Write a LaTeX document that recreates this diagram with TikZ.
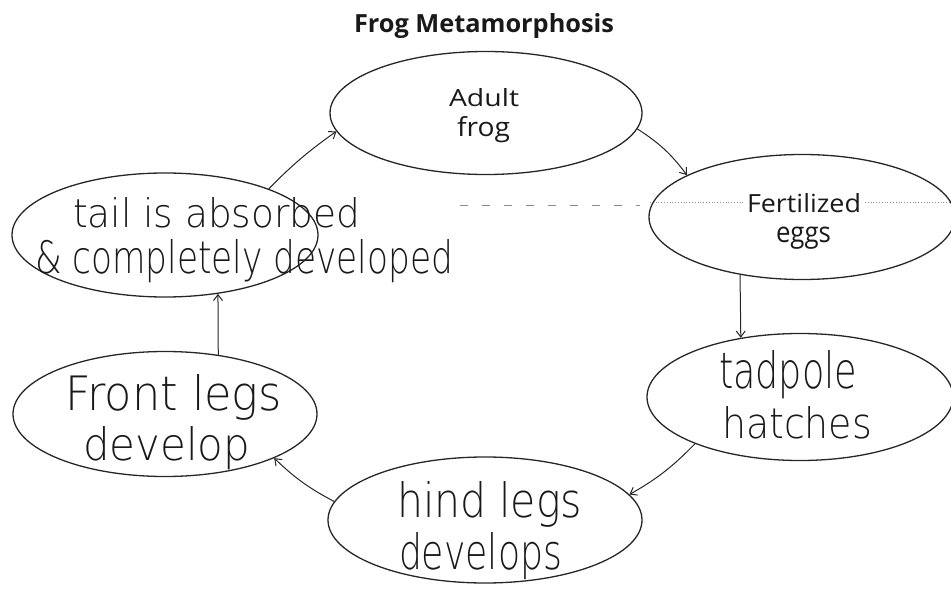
\documentclass[tikz,border=0pt]{standalone}
\usepackage{fontspec}
\setmainfont{Open Sans}
\newfontfamily\hwfont{DejaVu Sans ExtraLight}
\usetikzlibrary{shapes.geometric,arrows.meta}
\newcommand{\fitbox}[3]{\resizebox{#1pt}{#2pt}{#3}}
\tikzset{
  stage/.style={ellipse, draw=black!85, line width=1.3pt, inner sep=0pt},
  txt/.style={anchor=base west, inner sep=0pt, outer sep=0pt, text=black!90},
  hand/.style={txt, font=\hwfont},
  arr/.style={draw=black!85, line width=1pt, -{Straight Barb[length=6pt,width=9pt]}},
  scan/.style={draw=black!45, line width=0.8pt}
}
\begin{document}
\begin{tikzpicture}[x=1pt,y=-1pt]
\useasboundingbox (0,0) rectangle (951,599);
% scan artefact
\draw[scan, dash pattern=on 8pt off 14pt] (460,205) -- (640,205);
\draw[scan, dotted] (650,202) -- (745,202);
\draw[scan, dotted] (865,202) -- (951,202);
% title
\node[txt] (title) at (354,33) {\fitbox{260}{19}{\bfseries Frog Metamorphosis}};
% ellipses
\node[stage, minimum width=312pt, minimum height=123pt] (adult) at (486,113) {};
\node[stage, minimum width=306pt, minimum height=125pt] (fert)  at (802,217) {};
\node[stage, minimum width=306pt, minimum height=127pt] (tad)   at (800,397) {};
\node[stage, minimum width=314pt, minimum height=126pt] (hind)  at (485,520) {};
\node[stage, minimum width=304pt, minimum height=125pt] (front) at (165,414) {};
\node[stage, minimum width=306pt, minimum height=124pt] (tail)  at (165,235) {};
% printed labels
\node[txt] (adultA) at (449,107) {\fitbox{70}{18}{Adult}};
\node[txt] (adultB) at (457,137) {\fitbox{53}{20}{frog}};
\node[txt] (fertA)  at (747,212) {\fitbox{114}{19}{Fertilized}};
\node[txt] (fertB)  at (776,242) {\fitbox{55}{15.5}{eggs}};
% handwritten labels
\node[hand] (tailA)  at (73,227)  {\fitbox{287}{30}{tail is absorbed}};
\node[hand] (tailB)  at (35,273)  {\fitbox{418}{34}{\& completely developed}};
\node[hand] (frontA) at (65,410)  {\fitbox{217}{36}{Front legs}};
\node[hand] (frontB) at (83,460)  {\fitbox{167}{34}{develop}};
\node[hand] (tadA)   at (719,388) {\fitbox{138}{38}{tadpole}};
\node[hand] (tadB)   at (722,438) {\fitbox{150}{32}{hatches}};
\node[hand] (hindA)  at (397,517) {\fitbox{185}{36}{hind legs}};
\node[hand] (hindB)  at (399,569) {\fitbox{163}{37}{develops}};
% connectors
\draw[arr] (tail.24) to[bend left=5] (adult.187);
\draw[arr] (adult.-6.5) to[bend left=10] (fert.160);
\draw[arr] (fert.-137.4) -- (tad.135.2);
\draw[arr] (tad.204.4) to[bend left=8] (hind.10);
\draw[arr] (hind.173.4) to[bend left=8] (front.-22.2);
\draw[arr] (front.48.6) -- (tail.-48.3);
\end{tikzpicture}
\end{document}
